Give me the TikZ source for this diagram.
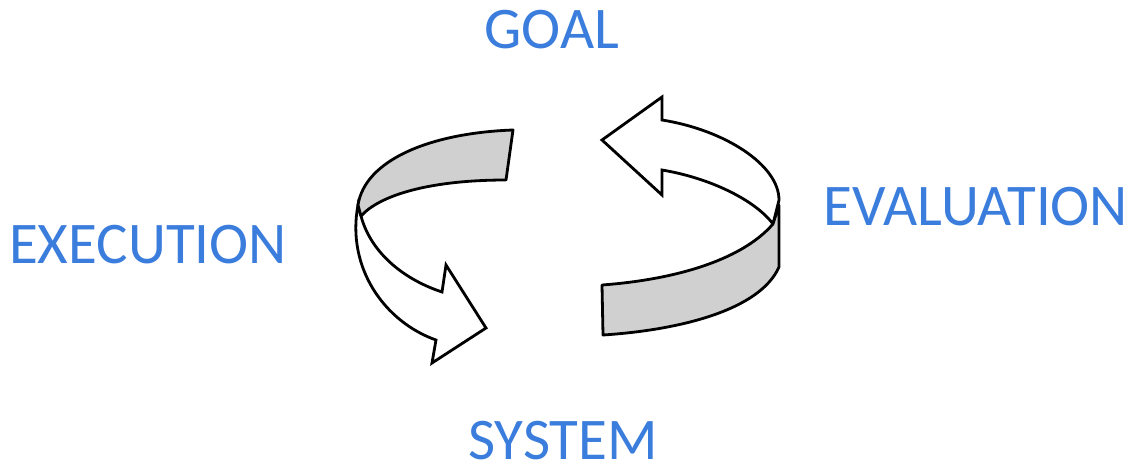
\documentclass[tikz,border=0pt]{standalone}
\usepackage{fontspec}
\setmainfont{Carlito}
\definecolor{lblblue}{RGB}{58,125,220}
\definecolor{bandgray}{RGB}{208,208,208}
\begin{document}
\begin{tikzpicture}[x=1pt,y=-1pt,
  lbl/.style={text=lblblue,font=\fontsize{59}{60}\selectfont,inner sep=0pt,text depth=0pt,anchor=base},
  band/.style={draw=black,line width=2.8pt,line join=round,fill=bandgray},
  arrowpart/.style={draw=black,line width=2.8pt,line join=miter,fill=white}]
\useasboundingbox (0,0) rectangle (1130,469);
\fill[white] (0,0) rectangle (1130,469);
% labels
\node[lbl] (goal) at (552,48) {GOAL};
\node[lbl] (exec) at (148,263) {EXECUTION};
\node[lbl] (eval) at (976,225) {EVALUATION};
\node[lbl] (sys) at (563,459) {SYSTEM};
% left arrow: white part
\path[arrowpart] (358,205) .. controls (346,268) and (385,322) .. (436,340)
  -- (432,363) -- (486,328) -- (446,265) -- (442,292)
  .. controls (400,278) and (370,250) .. (361,216) -- cycle;
% left arrow: gray band
\path[band] (513,130) .. controls (430,133) and (365,160) .. (358,205)
  -- (361,216) .. controls (380,195) and (430,180) .. (506,180) -- cycle;
% right arrow: white part
\path[arrowpart] (662,120) .. controls (725,130) and (779,165) .. (779,200)
  -- (773,224) .. controls (755,200) and (710,178) .. (662,170)
  -- (662,195) -- (602,140) -- (662,97) -- cycle;
% right arrow: gray band
\path[band] (773,224) -- (779,205) -- (779,267)
  .. controls (760,310) and (680,330) .. (603,335)
  -- (602,285) .. controls (670,280) and (740,262) .. cycle;
\end{tikzpicture}
\end{document}
